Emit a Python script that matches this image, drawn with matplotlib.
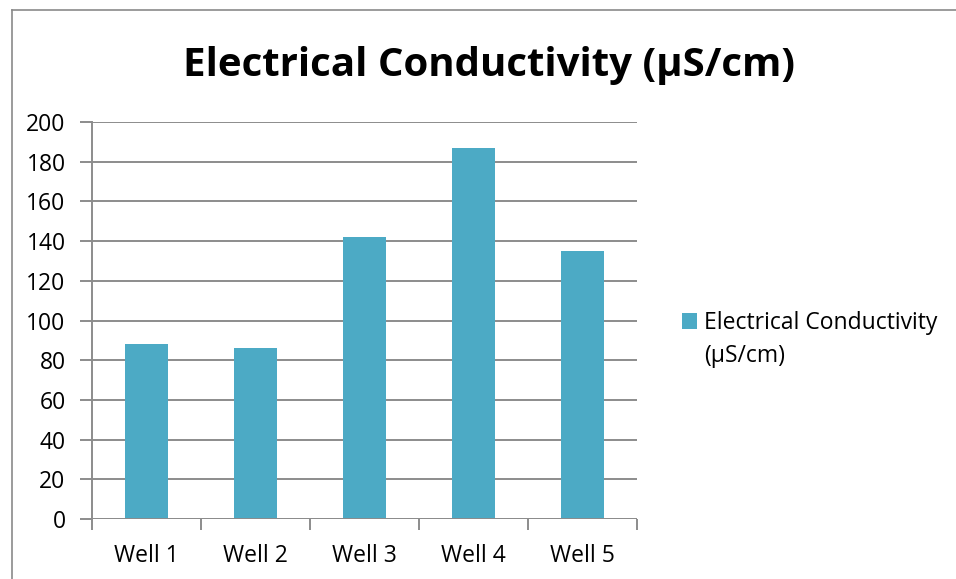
import matplotlib.pyplot as plt
from matplotlib.lines import Line2D

# conductivity readings per well
wells = ["Well 1", "Well 2", "Well 3", "Well 4", "Well 5"]
conductivity = [88, 86, 142, 187, 135]
series_name = "Electrical Conductivity"
series_unit = "(µS/cm)"
title = "Electrical Conductivity (µS/cm)"

bar_color = "#4CAAC5"
grid_color = "#8C8C8C"

fig = plt.figure(figsize=(9.56, 5.79), dpi=100)
ax = fig.add_axes([0.0962, 0.1036, 0.570, 0.6857])

# chart frame
fig.add_artist(Line2D([0.0125, 0.0125], [0, 0.983], color="#8A8A8A", lw=1.2))
fig.add_artist(Line2D([0.0125, 1.0], [0.983, 0.983], color="#8A8A8A", lw=1.2))

x = range(len(wells))
ax.bar(x, conductivity, width=0.4, color=bar_color, zorder=3,
       label=series_name)

ax.set_xlim(-0.5, len(wells) - 0.5)
ax.set_ylim(0, 200)
ax.set_yticks(range(0, 201, 20))
ax.yaxis.grid(True, color=grid_color, lw=1.4, zorder=0)

for side in ["top", "right", "bottom"]:
    ax.spines[side].set_visible(False)
ax.spines["left"].set_color(grid_color)
ax.spines["left"].set_linewidth(1.4)

# category boundaries carry the x ticks, labels sit in between
ax.set_xticks([i - 0.5 for i in range(len(wells) + 1)], minor=False)
ax.set_xticklabels([])
ax.set_xticks(list(x), minor=True)
ax.set_xticklabels(wells, minor=True)
ax.tick_params(axis="x", which="major", length=8, width=1.4, color=grid_color)
ax.tick_params(axis="x", which="minor", length=0, pad=18, labelsize=16.5)
ax.tick_params(axis="y", length=9, width=1.4, color=grid_color,
               labelsize=16.5, pad=10)
for lbl in ax.get_xticklabels(minor=True) + ax.get_yticklabels():
    lbl.set_family("Open Sans")

ax.axhline(0, color=grid_color, lw=1.4, zorder=4)

fig.text(0.512, 0.887, title, ha="center", va="center", fontsize=29,
         fontweight="bold", family="Open Sans")

leg = fig.legend(loc="center left", bbox_to_anchor=(0.692, 0.442),
                 frameon=False, handlelength=0.65, handleheight=0.65,
                 handletextpad=0.3, prop={"family": "Open Sans", "size": 16.5})

# wrapped unit line under the legend entry
fig.canvas.draw()
bb = leg.get_texts()[0].get_window_extent().transformed(fig.transFigure.inverted())
fig.text(bb.x0, bb.y0 - 0.057, series_unit, ha="left", va="bottom",
         fontsize=16.5, family="Open Sans")

fig.savefig("out.png", dpi=100)
